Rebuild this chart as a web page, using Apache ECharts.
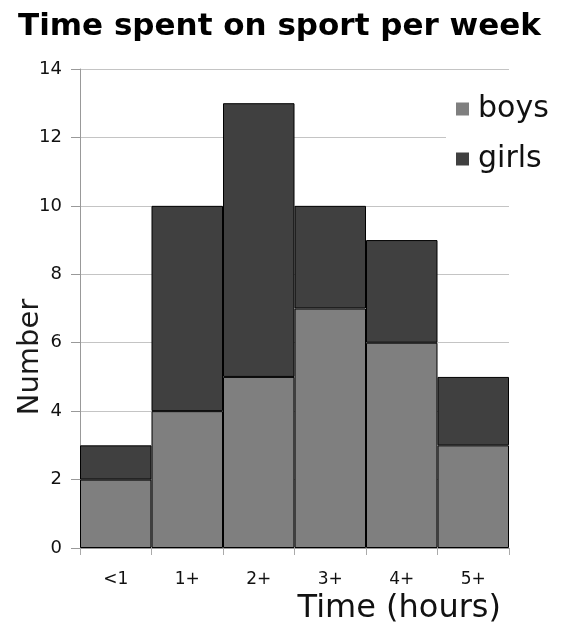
<!DOCTYPE html>
<html>
<head>
<meta charset="utf-8">
<script src="https://cdn.jsdelivr.net/npm/echarts@6/dist/echarts.min.js"></script>
<style>
  html, body { margin: 0; padding: 0; background: #fff; }
  #chart { width: 564px; height: 627px; }
</style>
</head>
<body>
<div id="chart"></div>
<script>
// Hours of sport per week, by group
const categories = ['<1', '1+', '2+', '3+', '4+', '5+'];
const boys = [2, 4, 5, 7, 6, 3];
const girls = [1, 6, 8, 3, 3, 2];
const yTicks = { min: 0, max: 14, interval: 2 };

const font = 'DejaVu Sans, Verdana, sans-serif';
const chart = echarts.init(document.getElementById('chart'), null, { renderer: 'canvas' });

chart.setOption({
  animation: false,
  backgroundColor: '#fff',
  textStyle: { fontFamily: font },
  title: {
    text: 'Time spent on sport per week',
    left: 13,
    top: 6,
    textStyle: { fontFamily: font, fontWeight: 'bold', fontSize: 31, color: '#000' }
  },
  legend: {
    orient: 'vertical',
    left: 446,
    top: 88,
    icon: 'rect',
    itemWidth: 13,
    itemHeight: 13,
    itemGap: 16,
    padding: [4, 8, 4, 10],
    backgroundColor: '#fff',
    textStyle: { fontFamily: font, fontSize: 30, lineHeight: 34, color: '#111', padding: [0, 0, 0, 4] },
    data: [
      { name: 'boys', itemStyle: { borderWidth: 0 } },
      { name: 'girls', itemStyle: { borderWidth: 0 } }
    ]
  },
  grid: { left: 80, right: 55, top: 69, bottom: 79, containLabel: false },
  xAxis: {
    type: 'category',
    data: categories,
    axisLine: { lineStyle: { color: '#999', width: 1 } },
    axisTick: { show: true, length: 7, lineStyle: { color: '#aaa' } },
    axisLabel: { fontFamily: font, fontSize: 17, color: '#111', margin: 23 },
    splitLine: { show: false }
  },
  yAxis: {
    type: 'value',
    min: yTicks.min,
    max: yTicks.max,
    interval: yTicks.interval,
    axisLine: { show: true, lineStyle: { color: '#999', width: 1 } },
    axisTick: { show: true, length: 9, lineStyle: { color: '#999' } },
    axisLabel: { fontFamily: font, fontSize: 18, color: '#111', margin: 18 },
    splitLine: { show: true, lineStyle: { color: '#c4c4c4', width: 1 } }
  },
  graphic: [
    {
      type: 'text',
      x: 30,
      y: 357,
      rotation: Math.PI / 2,
      style: {
        text: 'Number',
        fontFamily: font,
        fontSize: 29,
        fill: '#1a1a1a',
        align: 'center',
        verticalAlign: 'middle'
      }
    },
    {
      type: 'text',
      x: 501,
      y: 609,
      style: {
        text: 'Time (hours)',
        fontFamily: font,
        fontSize: 32,
        fill: '#111',
        align: 'right',
        verticalAlign: 'middle'
      }
    }
  ],
  series: [
    {
      name: 'boys',
      type: 'bar',
      stack: 'total',
      data: boys,
      barWidth: '100%',
      barCategoryGap: '0%',
      itemStyle: { color: '#7f7f7f', borderColor: '#000', borderWidth: 1 }
    },
    {
      name: 'girls',
      type: 'bar',
      stack: 'total',
      data: girls,
      barWidth: '100%',
      barCategoryGap: '0%',
      itemStyle: { color: '#404040', borderColor: '#000', borderWidth: 1 }
    }
  ]
});
</script>
</body>
</html>
